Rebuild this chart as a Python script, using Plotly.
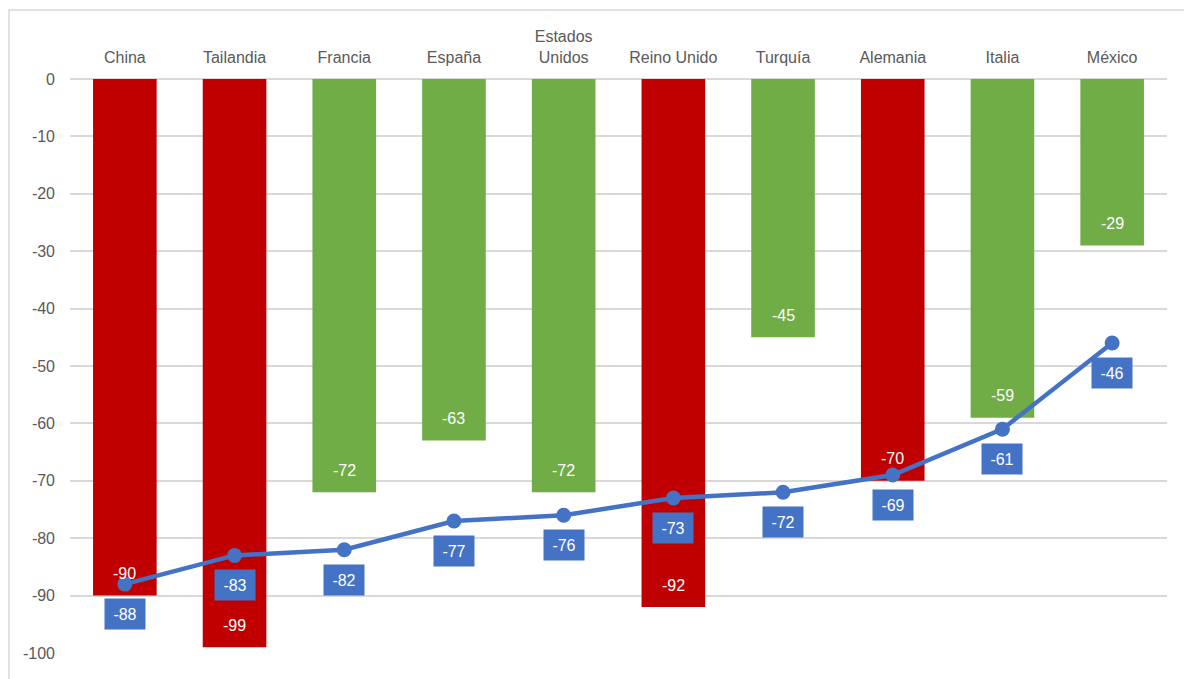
import plotly.graph_objects as go

categories = ["China", "Tailandia", "Francia", "España", "Estados<br>Unidos",
              "Reino Unido", "Turquía", "Alemania", "Italia", "México"]
bar_values = [-90, -99, -72, -63, -72, -92, -45, -70, -59, -29]
bar_colors = ["#C00000", "#C00000", "#70AD47", "#70AD47", "#70AD47",
              "#C00000", "#70AD47", "#C00000", "#70AD47", "#70AD47"]
line_values = [-88, -83, -82, -77, -76, -73, -72, -69, -61, -46]
y_ticks = [0, -10, -20, -30, -40, -50, -60, -70, -80, -90, -100]

BLUE = "#4472C4"
FONT = "Liberation Sans, Arial, sans-serif"

fig = go.Figure()
fig.add_trace(go.Bar(x=categories, y=bar_values, marker=dict(color=bar_colors, line=dict(width=0)),
                     hoverinfo="x+y"))
fig.add_trace(go.Scatter(x=categories, y=line_values, mode="lines+markers",
                         line=dict(color=BLUE, width=4.5),
                         marker=dict(color=BLUE, size=15)))

annotations = []
for c, v in zip(categories, bar_values):
    annotations.append(dict(x=c, y=v, xref="x", yref="y", text=str(v), showarrow=False,
                            yshift=22, font=dict(color="white", size=16, family=FONT)))
for c, v in zip(categories, line_values):
    annotations.append(dict(x=c, y=v, xref="x", yref="y", text=str(v), showarrow=False,
                            yshift=-30, bgcolor=BLUE, width=38, height=28,
                            font=dict(color="white", size=16, family=FONT)))

# page body has an 8px margin; compensate so the plot lands where the reference has it
fig.update_layout(
    width=1184, height=671,
    margin=dict(l=62, r=25, t=71, b=26),
    paper_bgcolor="white", plot_bgcolor="white",
    showlegend=False, bargap=0.42,
    font=dict(family=FONT, color="#595959", size=16),
    annotations=annotations,
    xaxis=dict(side="top", showline=False, ticks="", showgrid=False, automargin=False,
               range=[-0.5, len(categories) - 0.5],
               ticklabelstandoff=12, tickfont=dict(size=16, color="#595959")),
    yaxis=dict(range=[-100, 0], tickvals=y_ticks, ticktext=[str(t) for t in y_ticks],
               showgrid=True, gridcolor="#D9D9D9", gridwidth=1.5, zeroline=True,
               zerolinecolor="#D9D9D9", zerolinewidth=1.5, showline=False, automargin=False,
               ticks="", ticklabelstandoff=14, tickfont=dict(size=16, color="#595959")),
    shapes=[dict(type="rect", xref="paper", yref="paper",
                 x0=-0.0556, x1=1.03, y0=-0.06, y1=1.1202,
                 line=dict(color="#D9D9D9", width=1.5), fillcolor="rgba(0,0,0,0)", layer="below")],
)

fig.write_html("out.html")
